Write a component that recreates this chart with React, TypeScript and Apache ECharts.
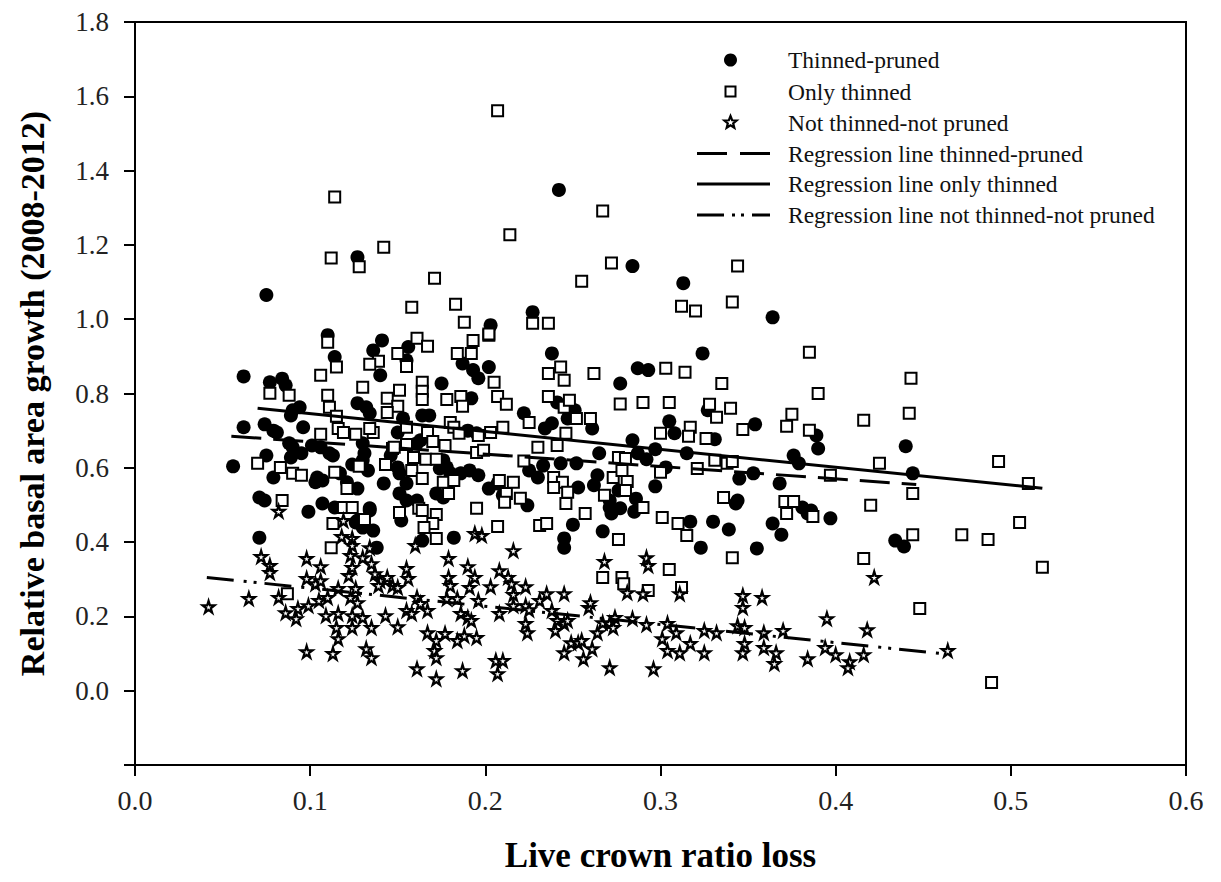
import React, { useEffect, useRef } from "react";
import * as echarts from "echarts";

const xTicks = [0, 0.1, 0.2, 0.3, 0.4, 0.5, 0.6];
const yTickLabels = ["0.0", "0.2", "0.4", "0.6", "0.8", "1.0", "1.2", "1.4", "1.6", "1.8"];

const seriesNames = [
  "Thinned-pruned",
  "Only thinned",
  "Not thinned-not pruned",
  "Regression line thinned-pruned",
  "Regression line only thinned",
  "Regression line not thinned-not pruned",
];

const thinnedPruned: number[][] = [
  [0.075,1.065],[0.127,1.167],[0.242,1.348],[0.284,1.143],[0.313,1.097],[0.364,1.005],[0.203,0.984],[0.227,1.019],
  [0.062,0.846],[0.077,0.830],[0.084,0.840],[0.086,0.822],[0.094,0.763],[0.089,0.741],[0.090,0.755],
  [0.062,0.709],[0.074,0.717],[0.079,0.700],[0.081,0.695],[0.096,0.709],
  [0.056,0.604],[0.075,0.633],[0.088,0.666],[0.090,0.655],[0.095,0.639],[0.089,0.628],
  [0.079,0.574],[0.071,0.520],[0.074,0.512],[0.071,0.412],
  [0.099,0.482],[0.107,0.504],[0.104,0.574],[0.107,0.566],[0.103,0.561],
  [0.110,0.957],[0.114,0.898],[0.141,0.943],[0.136,0.916],[0.140,0.849],
  [0.101,0.660],[0.106,0.655],[0.111,0.639],[0.113,0.633],
  [0.117,0.585],[0.121,0.561],[0.127,0.544],
  [0.114,0.493],[0.134,0.491],[0.127,0.458],[0.136,0.431],[0.138,0.385],
  [0.124,0.609],[0.133,0.593],[0.127,0.774],[0.132,0.763],[0.134,0.747],
  [0.130,0.666],[0.131,0.639],[0.130,0.620],[0.153,0.733],[0.150,0.695],
  [0.142,0.558],[0.155,0.558],[0.151,0.531],[0.155,0.512],[0.152,0.458],[0.161,0.512],
  [0.146,0.633],[0.150,0.601],[0.151,0.585],
  [0.156,0.925],[0.155,0.889],[0.175,0.827],[0.164,0.741],[0.168,0.741],
  [0.161,0.666],[0.163,0.674],[0.176,0.620],[0.178,0.601],[0.180,0.585],
  [0.172,0.531],[0.176,0.520],[0.164,0.404],[0.182,0.412],
  [0.187,0.881],[0.193,0.863],[0.196,0.841],[0.202,0.871],
  [0.192,0.787],[0.190,0.700],[0.195,0.693],[0.191,0.593],[0.196,0.580],
  [0.202,0.544],[0.207,0.558],[0.222,0.747],
  [0.238,0.908],[0.324,0.908],[0.287,0.868],[0.293,0.863],[0.277,0.827],
  [0.234,0.706],[0.238,0.720],[0.241,0.776],[0.248,0.760],[0.251,0.755],[0.247,0.733],[0.261,0.706],
  [0.305,0.725],[0.308,0.693],[0.327,0.755],[0.331,0.677],[0.354,0.717],
  [0.284,0.674],[0.287,0.639],[0.297,0.650],[0.292,0.623],[0.315,0.639],
  [0.265,0.639],[0.252,0.612],[0.243,0.612],[0.233,0.606],[0.225,0.593],[0.230,0.574],
  [0.264,0.580],[0.262,0.553],[0.253,0.547],[0.276,0.539],[0.286,0.517],[0.285,0.482],[0.271,0.493],[0.277,0.491],[0.272,0.477],
  [0.297,0.550],[0.345,0.571],[0.353,0.585],[0.368,0.558],
  [0.376,0.633],[0.379,0.612],[0.390,0.652],[0.389,0.687],
  [0.344,0.512],[0.343,0.504],[0.381,0.493],[0.384,0.477],[0.386,0.485],[0.397,0.464],
  [0.364,0.450],[0.369,0.420],[0.330,0.455],[0.339,0.434],[0.317,0.455],
  [0.323,0.385],[0.355,0.383],[0.250,0.447],[0.267,0.429],[0.245,0.410],[0.245,0.385],
  [0.440,0.658],[0.444,0.585],[0.434,0.404],[0.439,0.388],
  [0.126,0.453],[0.130,0.439],[0.134,0.485],
  [0.174,0.598],[0.186,0.585],[0.210,0.526],[0.224,0.499],[0.271,0.512],[0.303,0.601],
];

const onlyThinned: number[][] = [
  [0.114,1.329],[0.112,1.165],[0.128,1.141],[0.142,1.194],[0.207,1.561],[0.214,1.227],[0.267,1.291],[0.272,1.151],
  [0.255,1.102],[0.344,1.143],[0.341,1.046],[0.312,1.035],[0.320,1.022],[0.171,1.110],
  [0.227,0.989],[0.236,0.989],[0.202,0.957],
  [0.243,0.871],[0.236,0.854],[0.245,0.836],[0.262,0.854],[0.303,0.868],[0.314,0.857],[0.335,0.827],
  [0.205,0.830],[0.207,0.792],[0.212,0.771],
  [0.236,0.792],[0.245,0.763],[0.248,0.782],[0.252,0.733],[0.260,0.733],[0.225,0.722],
  [0.277,0.772],[0.290,0.776],[0.305,0.776],
  [0.328,0.771],[0.332,0.736],[0.340,0.760],[0.347,0.703],
  [0.300,0.693],[0.317,0.709],[0.316,0.685],[0.326,0.679],
  [0.210,0.709],[0.203,0.695],[0.230,0.655],[0.241,0.660],[0.246,0.693],
  [0.385,0.911],[0.443,0.841],[0.390,0.800],[0.375,0.744],[0.372,0.712],[0.385,0.701],[0.416,0.728],[0.442,0.747],
  [0.425,0.612],[0.493,0.617],[0.397,0.580],[0.444,0.531],[0.510,0.558],
  [0.371,0.509],[0.376,0.509],[0.372,0.477],[0.387,0.469],[0.420,0.499],[0.444,0.420],[0.472,0.420],[0.487,0.407],
  [0.505,0.453],[0.518,0.332],[0.416,0.356],[0.448,0.221],[0.489,0.022],
  [0.222,0.618],[0.276,0.628],[0.280,0.625],
  [0.300,0.588],[0.321,0.598],[0.331,0.620],[0.338,0.612],[0.341,0.617],
  [0.208,0.566],[0.216,0.561],[0.239,0.574],[0.244,0.561],[0.239,0.547],[0.247,0.534],[0.212,0.531],[0.220,0.518],[0.211,0.507],
  [0.273,0.574],[0.278,0.593],[0.281,0.563],[0.280,0.539],[0.268,0.526],[0.246,0.504],
  [0.290,0.493],[0.257,0.477],[0.231,0.445],[0.235,0.450],[0.301,0.466],[0.310,0.450],[0.315,0.418],[0.276,0.407],
  [0.336,0.520],[0.341,0.358],[0.305,0.326],
  [0.267,0.305],[0.278,0.305],[0.279,0.288],[0.293,0.270],[0.312,0.278],
  [0.158,1.032],[0.183,1.040],[0.188,0.992],[0.193,0.943],[0.202,0.960],[0.184,0.908],[0.192,0.908],
  [0.110,0.938],[0.115,0.871],[0.106,0.849],[0.139,0.887],[0.134,0.879],[0.155,0.873],[0.161,0.949],[0.167,0.927],[0.150,0.908],
  [0.130,0.817],[0.077,0.801],[0.088,0.795],[0.110,0.795],[0.111,0.763],[0.115,0.739],
  [0.151,0.809],[0.144,0.787],[0.150,0.766],[0.144,0.749],
  [0.164,0.830],[0.164,0.806],[0.164,0.784],[0.178,0.784],[0.186,0.792],[0.187,0.766],
  [0.116,0.706],[0.119,0.695],[0.126,0.690],[0.136,0.695],[0.134,0.706],
  [0.106,0.690],[0.155,0.709],[0.155,0.663],[0.147,0.652],
  [0.167,0.695],[0.170,0.671],[0.177,0.660],[0.180,0.722],[0.182,0.709],
  [0.185,0.693],[0.196,0.687],[0.195,0.641],[0.199,0.647],
  [0.070,0.612],[0.083,0.601],[0.090,0.585],[0.095,0.580],
  [0.128,0.604],[0.143,0.609],[0.148,0.655],
  [0.159,0.628],[0.166,0.623],[0.172,0.623],[0.158,0.593],[0.164,0.571],
  [0.114,0.588],[0.176,0.561],[0.179,0.531],[0.182,0.566],
  [0.084,0.512],[0.119,0.493],[0.124,0.493],[0.121,0.544],[0.113,0.450],[0.131,0.461],
  [0.151,0.480],[0.162,0.491],[0.164,0.485],[0.172,0.474],[0.170,0.450],[0.165,0.439],[0.172,0.410],
  [0.195,0.491],[0.207,0.442],[0.112,0.385],[0.087,0.261],
];

const notThinned: number[][] = [
  [0.042,0.226],[0.065,0.248],[0.082,0.483],[0.072,0.361],[0.077,0.337],[0.077,0.318],[0.082,0.251],[0.086,0.210],[0.093,0.221],[0.092,0.194],
  [0.098,0.356],[0.106,0.334],[0.098,0.302],[0.103,0.288],[0.106,0.296],
  [0.099,0.229],[0.105,0.243],[0.109,0.202],[0.116,0.208],[0.115,0.170],[0.116,0.140],[0.098,0.105],[0.113,0.100],
  [0.118,0.415],[0.124,0.410],[0.124,0.391],[0.123,0.364],[0.130,0.358],[0.122,0.310],[0.124,0.332],
  [0.135,0.342],[0.137,0.315],[0.140,0.296],[0.144,0.305],[0.139,0.283],[0.147,0.283],[0.150,0.278],[0.155,0.329],[0.156,0.302],
  [0.110,0.251],[0.116,0.275],[0.123,0.251],[0.126,0.275],[0.127,0.237],
  [0.124,0.202],[0.130,0.197],[0.135,0.170],[0.124,0.170],[0.143,0.202],[0.150,0.172],[0.132,0.113],[0.135,0.089],
  [0.161,0.251],[0.163,0.235],[0.167,0.216],[0.155,0.216],[0.158,0.208],
  [0.179,0.356],[0.190,0.334],[0.179,0.305],[0.180,0.283],[0.191,0.278],[0.194,0.305],[0.194,0.423],[0.198,0.418],
  [0.178,0.248],[0.184,0.248],[0.186,0.208],[0.190,0.197],[0.196,0.243],
  [0.167,0.156],[0.172,0.135],[0.177,0.154],[0.184,0.135],[0.188,0.148],[0.171,0.108],[0.172,0.089],
  [0.161,0.059],[0.172,0.032],[0.187,0.054],[0.192,0.189],[0.195,0.143],
  [0.216,0.377],[0.208,0.323],[0.213,0.305],[0.215,0.288],[0.216,0.259],[0.203,0.280],[0.223,0.280],
  [0.208,0.208],[0.216,0.229],[0.223,0.229],[0.225,0.218],[0.223,0.181],[0.224,0.156],
  [0.206,0.081],[0.210,0.081],[0.207,0.046],
  [0.231,0.243],[0.235,0.261],[0.238,0.216],[0.241,0.189],[0.240,0.162],[0.245,0.181],[0.247,0.189],[0.245,0.261],
  [0.245,0.102],[0.249,0.129],[0.253,0.129],[0.255,0.135],[0.256,0.086],[0.261,0.113],
  [0.259,0.224],[0.260,0.237],[0.264,0.156],[0.268,0.348],[0.271,0.062],
  [0.267,0.183],[0.271,0.181],[0.274,0.197],[0.273,0.170],[0.284,0.194],[0.292,0.178],
  [0.292,0.358],[0.293,0.337],[0.281,0.264],[0.290,0.261],[0.296,0.059],[0.311,0.261],
  [0.304,0.181],[0.309,0.156],[0.301,0.140],[0.304,0.108],[0.311,0.102],[0.317,0.127],[0.325,0.102],
  [0.325,0.162],[0.332,0.156],[0.347,0.256],[0.358,0.251],[0.347,0.224],[0.344,0.175],[0.348,0.170],
  [0.348,0.127],[0.347,0.102],[0.359,0.156],[0.359,0.116],
  [0.422,0.305],[0.395,0.194],[0.418,0.164],[0.370,0.162],[0.366,0.102],[0.365,0.073],[0.384,0.086],[0.394,0.116],
  [0.400,0.097],[0.408,0.078],[0.407,0.062],[0.416,0.097],[0.464,0.108],
  [0.119,0.458],[0.134,0.385],[0.160,0.391],
];

const regThinnedPruned: number[][] = [[0.055, 0.685], [0.446, 0.555]];
const regOnlyThinned: number[][] = [[0.070, 0.760], [0.518, 0.545]];
const regNotThinned: number[][] = [[0.041, 0.305], [0.460, 0.100]];

const SERIF = "'Liberation Serif', 'Times New Roman', serif";
const STAR = "path://M50,0 L61,35 L98,35 L68,57 L79,91 L50,70 L21,91 L32,57 L2,35 L39,35 Z";

function starPoints(cx: number, cy: number, ro: number, ri: number): number[][] {
  const pts: number[][] = [];
  for (let i = 0; i < 10; i++) {
    const r = i % 2 === 0 ? ro : ri;
    const a = -Math.PI / 2 + (i * Math.PI) / 5;
    pts.push([cx + r * Math.cos(a), cy + r * Math.sin(a)]);
  }
  return pts;
}

export default function App() {
  const ref = useRef<HTMLDivElement>(null);
  useEffect(() => {
    if (!ref.current) return;
    const chart = echarts.init(ref.current, undefined, { renderer: "svg" });

    const legendX = 697;
    const legendW = 73;
    const textX = 788;
    const rows = [60, 91.5, 122.5, 153.5, 184, 215];
    const cx = legendX + legendW / 2 - 3;

    const graphics: any[] = [
      { type: "circle", shape: { cx, cy: rows[0], r: 6.5 }, style: { fill: "#000" }, z: 100 },
      { type: "rect", shape: { x: cx - 5, y: rows[1] - 5, width: 10, height: 10 }, style: { fill: "#fff", stroke: "#000", lineWidth: 2 }, z: 100 },
      { type: "polygon", shape: { points: starPoints(cx, rows[2], 6.5, 2.8) }, style: { fill: "#fff", stroke: "#000", lineWidth: 2.2 }, z: 100 },
      { type: "line", shape: { x1: legendX, y1: rows[3], x2: legendX + legendW, y2: rows[3] }, style: { stroke: "#000", lineWidth: 3, lineDash: [30, 13] }, z: 100 },
      { type: "line", shape: { x1: legendX, y1: rows[4], x2: legendX + legendW, y2: rows[4] }, style: { stroke: "#000", lineWidth: 3 }, z: 100 },
      { type: "line", shape: { x1: legendX, y1: rows[5], x2: legendX + legendW, y2: rows[5] }, style: { stroke: "#000", lineWidth: 3, lineDash: [27, 8, 3, 6, 3, 8] }, z: 100 },
    ];
    seriesNames.forEach((name, i) => {
      graphics.push({
        type: "text",
        x: textX,
        y: rows[i],
        style: { text: name, fill: "#111", font: `23.5px ${SERIF}`, textVerticalAlign: "middle", textAlign: "left" },
        z: 100,
      });
    });

    const lineSeries = (name: string, data: number[][], type: any) => ({
      name,
      type: "line",
      data,
      showSymbol: false,
      symbol: "none",
      lineStyle: { color: "#000", width: 3, type },
      z: 5,
      silent: true,
    });

    chart.setOption({
      animation: false,
      backgroundColor: "#fff",
      grid: {
        left: 135,
        right: 35,
        top: 22,
        bottom: 117,
        show: true,
        borderColor: "#000",
        borderWidth: 2,
        backgroundColor: "transparent",
      },
      xAxis: {
        type: "value",
        min: xTicks[0],
        max: xTicks[xTicks.length - 1],
        interval: 0.1,
        name: "Live crown ratio loss",
        nameLocation: "middle",
        nameGap: 73,
        nameTextStyle: { fontFamily: SERIF, fontSize: 35, fontWeight: "bold", color: "#000" },
        axisLine: { show: true, onZero: false, lineStyle: { color: "#000", width: 2 } },
        axisTick: { show: true, length: 11, inside: false, lineStyle: { color: "#000", width: 2 } },
        axisLabel: {
          formatter: (v: number) => v.toFixed(1),
          fontFamily: SERIF,
          fontSize: 28,
          color: "#222",
          margin: 21,
          showMinLabel: true,
          showMaxLabel: true,
        },
        splitLine: { show: false },
      },
      yAxis: {
        type: "value",
        min: -0.2,
        max: 1.8,
        interval: 0.2,
        name: "Relative basal area growth (2008-2012)",
        nameLocation: "middle",
        nameGap: 86,
        nameRotate: 90,
        nameTextStyle: { fontFamily: SERIF, fontSize: 34, fontWeight: "bold", color: "#000" },
        axisLine: { show: true, onZero: false, lineStyle: { color: "#000", width: 2 } },
        axisTick: { show: true, length: 11, inside: false, lineStyle: { color: "#000", width: 2 } },
        axisLabel: {
          formatter: (v: number) => {
            const s = v.toFixed(1);
            return yTickLabels.indexOf(s) >= 0 ? s : "";
          },
          fontFamily: SERIF,
          fontSize: 27,
          color: "#222",
          margin: 26,
        },
        splitLine: { show: false },
      },
      series: [
        {
          name: seriesNames[0],
          type: "scatter",
          data: thinnedPruned,
          symbol: "circle",
          symbolSize: 14,
          itemStyle: { color: "#000", opacity: 1 },
          z: 2,
        },
        {
          name: seriesNames[1],
          type: "scatter",
          data: onlyThinned,
          symbol: "rect",
          symbolSize: 11,
          itemStyle: { color: "#fff", borderColor: "#000", borderWidth: 2, opacity: 1 },
          z: 3,
        },
        {
          name: seriesNames[2],
          type: "scatter",
          data: notThinned,
          symbol: STAR,
          symbolSize: 12,
          itemStyle: { color: "#fff", borderColor: "#000", borderWidth: 2.2, opacity: 1 },
          z: 4,
        },
        lineSeries(seriesNames[3], regThinnedPruned, [30, 12]),
        lineSeries(seriesNames[4], regOnlyThinned, "solid"),
        lineSeries(seriesNames[5], regNotThinned, [27, 10, 3, 7, 3, 8]),
      ],
      graphic: graphics,
    });
    return () => chart.dispose();
  }, []);

  return (
    <div
      ref={ref}
      style={{ position: "fixed", left: 0, top: 0, width: 1221, height: 882, background: "#fff" }}
    />
  );
}
